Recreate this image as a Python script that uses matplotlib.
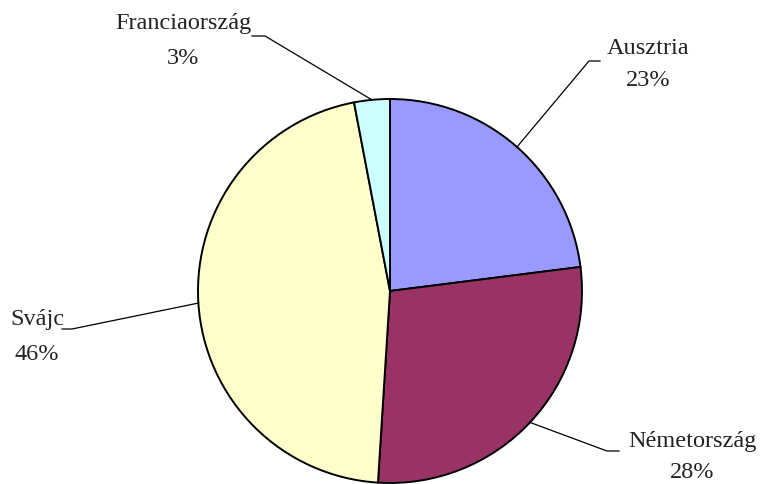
import numpy as np
import matplotlib.pyplot as plt

labels = ['Ausztria', 'Németország', 'Svájc', 'Franciaország']
shares = [23, 28, 46, 3]
colors = ['#9999FF', '#993366', '#FFFFCC', '#CCFFFF']

W, H = 765, 485
fig = plt.figure(figsize=(W / 100, H / 100), dpi=100)
ax = fig.add_axes([0, 0, 1, 1])

cx, cy, r = 390, H - 292, 192
wedges, _ = ax.pie(shares, colors=colors, startangle=90, counterclock=False,
                   center=(cx, cy), radius=r, frame=True,
                   wedgeprops=dict(edgecolor='black', linewidth=1.4))
ax.set_xlim(0, W)
ax.set_ylim(0, H)
ax.set_aspect('equal')
ax.axis('off')

font = dict(family=['Liberation Serif', 'DejaVu Serif'], fontsize=17.5, color='#222222')

# text centre x, name y, percent y, leader y, leader elbow x, leader end x (px from top-left)
label_pos = {
    'Ausztria': (648, 49, 80, 62, 589, 600),
    'Németország': (692, 442, 473, 452, 607, 619),
    'Svájc': (37, 320, 354, 330, 72, 62),
    'Franciaország': (183, 24, 59, 37, 265, 252),
}

for w, name, val in zip(wedges, labels, shares):
    ang = np.deg2rad((w.theta1 + w.theta2) / 2)
    px, py = cx + r * np.cos(ang), cy + r * np.sin(ang)
    tx, ny, vy, ly, ex, ex2 = label_pos[name]
    ax.plot([px, ex, ex2], [py, H - ly, H - ly], color='black', lw=0.9)
    ax.text(tx, H - ny, name, ha='center', va='center', **font)
    ax.text(tx, H - vy, f'{val}%', ha='center', va='center', **font)

fig.savefig('out.png', dpi=100)
